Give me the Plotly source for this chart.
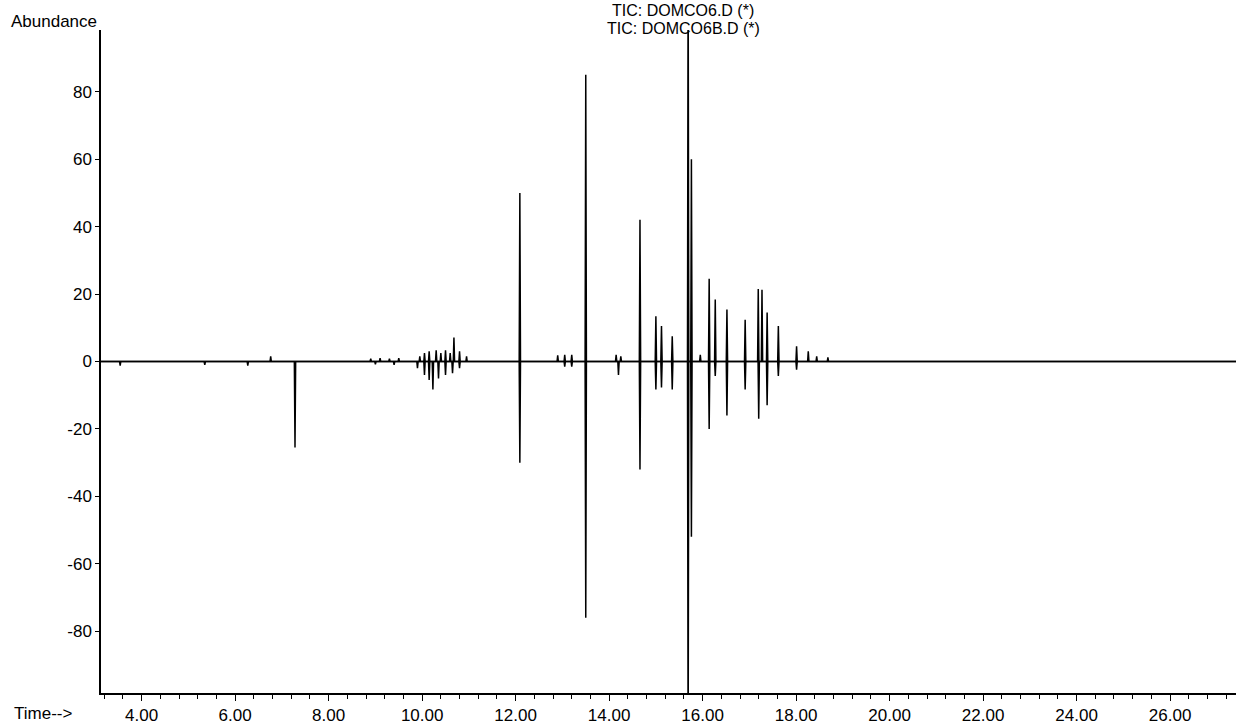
import plotly.graph_objects as go

# Peaks of the upper trace (DOMCO6.D): retention time (min), abundance
pos_times = [6.76, 8.9, 9.1, 9.3, 9.5, 9.95, 10.05, 10.15, 10.3, 10.4, 10.5, 10.6, 10.68, 10.8, 10.95,
             12.09, 12.9, 13.05, 13.2, 13.5, 14.15, 14.25, 14.66, 15.0, 15.12, 15.35,
             15.69, 15.76, 15.95, 16.14, 16.27, 16.52, 16.91, 17.19, 17.27, 17.38, 17.62,
             18.01, 18.26, 18.44, 18.68]
pos_heights = [1.5, 0.8, 1.0, 0.8, 1.0, 1.5, 2.5, 3.0, 3.3, 2.5, 3.3, 2.5, 7.1, 3.0, 1.5,
               50, 1.8, 2.0, 2.0, 85, 2.0, 1.5, 42, 13.4, 10.5, 7.5,
               120, 60, 2.0, 24.5, 18.4, 15.4, 12.4, 21.5, 21.3, 14.5, 10.5,
               4.5, 3.0, 1.5, 1.2]

# Peaks of the lower (inverted) trace (DOMCO6B.D)
neg_times = [3.54, 5.35, 6.27, 7.28, 9.0, 9.4, 9.9, 10.05, 10.15, 10.23, 10.35, 10.5, 10.65, 10.8,
             12.09, 13.05, 13.2, 13.5, 14.2, 14.66, 15.0, 15.12, 15.35,
             15.69, 15.76, 16.14, 16.27, 16.52, 16.91, 17.2, 17.38, 17.62, 18.01]
neg_heights = [-1.2, -1.0, -1.2, -25.5, -0.8, -1.0, -2.0, -4.0, -5.5, -8.3, -5.0, -4.0, -3.5, -2.0,
               -30, -1.5, -1.5, -76, -4.0, -32, -8.3, -7.7, -8.3,
               -120, -52, -20, -4.3, -16, -8.3, -17, -13, -4.3, -2.4]

x_start, x_end = 3.13, 27.41
tick_vals = [4, 6, 8, 10, 12, 14, 16, 18, 20, 22, 24, 26]
y_ticks = [-80, -60, -40, -20, 0, 20, 40, 60, 80]
y_tick_text = ["-80", "-60", "-40", "-20", "0", "20", "40", "60", "80"]


def trace_xy(times, heights, hw=0.014):
    xs, ys = [x_start], [0]
    for t, h in sorted(zip(times, heights)):
        xs += [t - hw, t, t + hw]
        ys += [0, h, 0]
    xs.append(x_end)
    ys.append(0)
    return xs, ys


fig = go.Figure()
for times, heights in [(pos_times, pos_heights), (neg_times, neg_heights)]:
    xs, ys = trace_xy(times, heights)
    fig.add_trace(go.Scatter(x=xs, y=ys, mode="lines",
                             line=dict(color="black", width=1.5),
                             showlegend=False, hoverinfo="skip"))

font = "Liberation Sans, Arial, sans-serif"
fig.update_layout(
    width=1236, height=725,
    margin=dict(l=101, r=0, t=30, b=32),
    paper_bgcolor="white", plot_bgcolor="white",
    font=dict(family=font, color="black", size=17),
    xaxis=dict(range=[x_start, x_end], tickvals=tick_vals, tickformat=".2f",
               showgrid=False, zeroline=False, showline=True, linecolor="black",
               linewidth=1.5, ticks="outside", ticklen=6, tickwidth=1.2, tickcolor="black",
               tickfont=dict(size=17),
               minor=dict(dtick=0.4, tick0=4, ticks="outside", ticklen=4,
                          tickwidth=1, tickcolor="black", showgrid=False)),
    yaxis=dict(range=[-98.3, 98.3], tickvals=y_ticks, ticktext=y_tick_text,
               showgrid=False, zeroline=False,
               showline=True, linecolor="black", linewidth=1.5, ticks="outside",
               ticklen=4, tickwidth=1, tickcolor="black", tickfont=dict(size=17)),
    annotations=[
        dict(text="Abundance", xref="paper", yref="paper", x=-0.081, y=1.0, yshift=9,
             xanchor="left", yanchor="middle", showarrow=False, font=dict(size=17)),
        dict(text="Time-->", xref="paper", yref="paper", x=-0.078, y=0, yshift=-20,
             xanchor="left", yanchor="middle", showarrow=False, font=dict(size=17)),
        dict(text="TIC: DOMCO6.D (*)", xref="paper", yref="paper", x=0.513, y=1.0,
             yshift=20, xanchor="center", yanchor="middle", showarrow=False,
             font=dict(size=16)),
        dict(text="TIC: DOMCO6B.D (*)", xref="paper", yref="paper", x=0.513, y=1.0,
             yshift=2, xanchor="center", yanchor="middle", showarrow=False,
             font=dict(size=16)),
    ],
)

fig.write_html("out.html")
